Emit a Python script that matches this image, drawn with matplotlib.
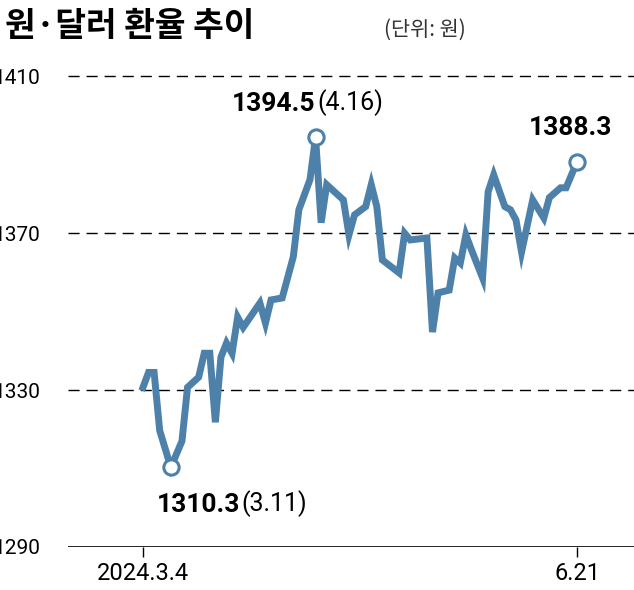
import matplotlib
matplotlib.use("Agg")
import matplotlib.pyplot as plt

day_idx = [0,1,2,3,5,7,8,10,11,12,13,14,15,16,17,18,21,22,23,25,27,28,30,31,32,33,36,37,38,40,41,42,43,
           46,47,48,51,52,53,55,56,57,58,59,61,62,63,65,66,67,68,70,72,73,75,76,77,78]
rates = [1330.7,1334.5,1334.5,1319.7,1310.3,1317.0,1330.7,1333.3,1339.4,1339.4,1321.8,1338.4,1342.0,1339.4,
         1348.6,1346.0,1352.2,1347.1,1353.0,1353.5,1364.0,1376.0,1383.7,1394.5,1372.7,1382.4,1378.5,1369.6,
         1374.7,1376.8,1382.4,1376.8,1363.2,1359.9,1370.0,1368.3,1368.8,1344.8,1354.8,1355.5,1363.7,1362.4,
         1369.6,1365.8,1358.6,1380.6,1384.9,1376.8,1376.0,1373.4,1365.2,1378.5,1373.9,1379.1,1381.6,1381.6,
         1385.0,1388.3]
yticks = [1290, 1330, 1370, 1410]
xlabels = ["2024.3.4", "6.21"]

num = ["Liberation Sans Narrow", "Roboto", "DejaVu Sans"]
kr = ["Noto Sans CJK KR", "DejaVu Sans"]
color = "#4d81aa"

fig = plt.figure(figsize=(6.34, 5.9), dpi=100)
ax = fig.add_axes([0.107, 0.073, 0.893, 0.824])
ax.set_xlim(-13.5, 88.2)
ax.set_ylim(1290, 1414)
for s in ax.spines.values():
    s.set_visible(False)
for y in yticks[1:]:
    ax.axhline(y, color="black", lw=1, ls=(0, (8, 5)), zorder=1)
ax.axhline(1290, color="black", lw=1.2, zorder=1)

ax.plot(day_idx, rates, color=color, lw=5, solid_joinstyle="miter", zorder=3)
for i in (4, 23, len(rates) - 1):
    ax.plot(day_idx[i], rates[i], "o", ms=11, mfc="white", mec=color, mew=2.2, zorder=4)

ax.set_yticks(yticks)
ax.set_yticklabels([str(v) for v in yticks], family=num, fontsize=15)
ax.tick_params(axis="y", length=0, pad=8)
for lab in ax.get_yticklabels():
    lab.set_horizontalalignment("left")
    lab.set_x(-0.112)
ax.set_xticks([day_idx[0], day_idx[-1]])
ax.set_xticklabels(xlabels, family=num, fontsize=17)
ax.tick_params(axis="x", length=7, width=1, pad=4)

def label(i, bold, normal, dx, dy):
    t = ax.annotate(bold, (day_idx[i], rates[i]), xytext=(dx, dy), textcoords="offset points",
                    family=num, fontsize=19, fontweight="bold", ha="left", va="center")
    if normal:
        ax.annotate(normal, xy=(1, 0), xycoords=t, xytext=(1, 0), textcoords="offset points",
                    family=num, fontsize=18, ha="left", va="bottom")

label(4, "1310.3", "(3.11)", -10, -27)
label(23, "1394.5", "(4.16)", -60, 24)
label(len(rates) - 1, "1388.3", None, -35, 24)

fig.text(0.008, 0.955, "원·달러 환율 추이", family=kr, fontsize=24, fontweight="bold", va="center")
fig.text(0.605, 0.950, "(단위: 원)", family=kr, fontsize=15, color="#333333", va="center")

fig.savefig("out.png", dpi=100)
